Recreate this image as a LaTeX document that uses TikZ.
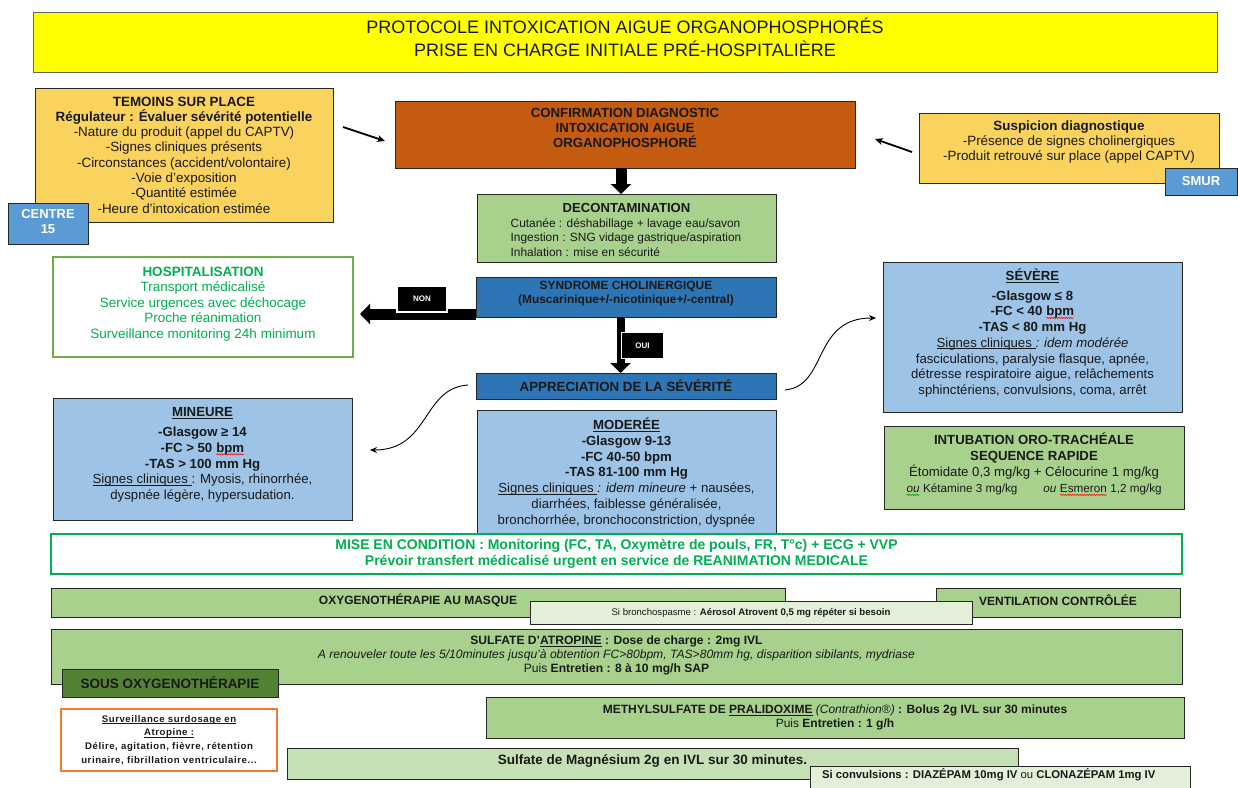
\documentclass[tikz,border=0pt]{standalone}
\usepackage{fontspec}
\setmainfont{Liberation Sans}
\usetikzlibrary{arrows.meta,shadows,decorations.pathmorphing,calc}

\definecolor{titleyellow}{HTML}{FFFF00}
\definecolor{paleorange}{HTML}{FAD35E}
\definecolor{rust}{HTML}{C55A11}
\definecolor{leaf}{HTML}{A9D18E}
\definecolor{leaflight}{HTML}{C5E0B4}
\definecolor{leafpale}{HTML}{E2F0D9}
\definecolor{leafdark}{HTML}{548235}
\definecolor{deepblue}{HTML}{2E75B6}
\definecolor{skyblue}{HTML}{9DC3E6}
\definecolor{midblue}{HTML}{5B9BD5}
\definecolor{vivid}{HTML}{00B050}
\definecolor{grassline}{HTML}{70AD47}
\definecolor{tangerine}{HTML}{ED7D31}

\newcommand\fs[2]{\fontsize{#1}{#2}\selectfont}
% underline close to the baseline
\newcommand\ul[1]{\setbox0\hbox{#1}\rlap{\rule[-1.8pt]{\wd0}{0.65pt}}\box0\relax}
% wavy spell-check style underline
\newcommand\wavy[2]{\tikz[baseline=(w.base)]{\node[inner sep=0pt,outer sep=0pt](w){#2};
  \draw[#1,line width=0.5pt,decorate,decoration={snake,amplitude=0.7pt,segment length=2.4pt}]
  ([yshift=-2pt]w.base west)--([yshift=-2pt]w.base east);}}

% box from corners (x1,y1)-(x2,y2), text node shifted by dy from the centre
\newcommand\bx[9]{%
  \node[#1,minimum width={(#5-#3)*1pt},minimum height={(#6-#4)*1pt}] (#2) at ({(#3+#5)/2},{(#4+#6)/2}) {};
  \node[txt,#8] (#2-t) at ($(#2.center)+(0,#7)$) {#9};}

\begin{document}
\begin{tikzpicture}[x=1pt,y=-1pt,
  box/.style={draw=black!85,line width=0.9pt,inner sep=0pt,outer sep=0pt},
  shade/.style={drop shadow={shadow xshift=1.3pt,shadow yshift=-1.3pt,fill=black!45,opacity=1}},
  txt/.style={align=center,inner sep=0pt,outer sep=0pt,text=black!90},
  fatarrow/.style={line width=#1,-{Triangle[width=20pt,length=10pt]}},
  thinarrow/.style={line width=1.8pt,-{Stealth[length=8pt,width=7pt]}},
  curvearrow/.style={line width=0.9pt,-{Stealth[length=7pt,width=6pt]}},
  tag/.style={fill=black,draw=white,line width=1.5pt,text=white,font=\fs{8}{9}\bfseries,inner sep=0pt,minimum width=50pt,minimum height=26pt},
]
\useasboundingbox (0,0) rectangle (1238,787);

% ---------- header ----------
\bx{box,draw=black!60,fill=titleyellow,shade}{title}{33}{12}{1217}{72}{-4.5}{font=\fs{18}{23}}
  {PROTOCOLE INTOXICATION AIGUE ORGANOPHOSPHORÉS\\PRISE EN CHARGE INITIALE PRÉ-HOSPITALIÈRE}

% ---------- alert sources ----------
\bx{box,fill=paleorange}{temoins}{35}{88}{333}{222}{0}{font=\fs{13.4}{15.3}}
  {\textbf{TEMOINS SUR PLACE}\\
   \textbf{Régulateur : Évaluer sévérité potentielle}\\
   -Nature du produit (appel du CAPTV)\\
   -Signes cliniques présents\\
   -Circonstances (accident/volontaire)\\
   -Voie d’exposition\\
   -Quantité estimée\\
   -Heure d’intoxication estimée}
\bx{box,fill=midblue}{centre}{8}{203}{88}{244}{-2}{font=\fs{13}{15}\bfseries,text=white}
  {CENTRE\\15}

\bx{box,fill=paleorange}{susp}{919}{113}{1219}{183}{-6}{font=\fs{13.4}{15.3}}
  {\textbf{Suspicion diagnostique}\\
   -Présence de signes cholinergiques\\
   -Produit retrouvé sur place (appel CAPTV)}
\bx{box,fill=midblue}{smur}{1165}{168}{1237}{195}{0}{font=\fs{13}{15}\bfseries,text=white}
  {SMUR}

\bx{box,fill=rust}{conf}{395}{101}{855}{168}{-6.5}{font=\fs{13.2}{15}\bfseries}
  {CONFIRMATION DIAGNOSTIC\\INTOXICATION AIGUE\\ORGANOPHOSPHORÉ}

\draw[thinarrow] ($(temoins.north east)+(10,39)$) -- ($(conf.west)+(-10,6.5)$);
\draw[thinarrow] ($(susp.west)+(-7,4)$) -- ($(conf.east)+(20,4.5)$);

% ---------- decontamination ----------
\node[box,fill=leaf,minimum width=299pt,minimum height=68pt] (decon) at (626.5,228) {};
\node[txt,font=\fs{13.1}{15}\bfseries] (decon-t) at (626.5,208) {DECONTAMINATION};
\node[txt,align=left,font=\fs{11.9}{14.5}] (decon-l) at (626,237.5)
  {Cutanée : déshabillage + lavage eau/savon\\
   Ingestion : SNG vidage gastrique/aspiration\\
   Inhalation : mise en sécurité};
\draw[fatarrow=11pt] ([xshift=-4pt]conf.south) -- ([xshift=-5.5pt]decon.north);

% ---------- cholinergic syndrome ----------
\bx{box,fill=deepblue}{synd}{476}{277}{776}{317}{-3}{font=\fs{11.9}{14}\bfseries}
  {SYNDROME CHOLINERGIQUE\\(Muscarinique+/-nicotinique+/-central)}
\bx{box,fill=deepblue}{appr}{476}{373}{776}{399}{0}{font=\fs{13.3}{15}\bfseries}
  {APPRECIATION DE LA SÉVÉRITÉ}

\bx{box,draw=grassline,line width=1.4pt,fill=white}{hosp}{53}{257}{353}{357}{-3}{font=\fs{13.5}{15.6},text=vivid}
  {\textbf{HOSPITALISATION}\\
   Transport médicalisé\\
   Service urgences avec déchocage\\
   Proche réanimation\\
   Surveillance monitoring 24h minimum}

\coordinate (nontip) at (360,314);
\draw[fatarrow=11pt] (synd.west |- nontip) -- (nontip);
\node[tag] (non) at (422,299) {NON};

\draw[fatarrow=8pt] ([xshift=-5.5pt]synd.south) -- ([xshift=-5.5pt]appr.north);
\node[tag,minimum width=42pt,minimum height=26pt] (oui) at (642.5,345.5) {OUI};

% ---------- severity ----------
\bx{box,fill=skyblue}{sev}{883}{262}{1182}{412}{-4}{font=\fs{13.2}{15.7}}
  {\ul{\textbf{SÉVÈRE}}\\[4pt]
   \textbf{-Glasgow ≤ 8}\\
   \textbf{-FC < 40 \wavy{red}{bpm}}\\
   \textbf{-TAS < 80 mm Hg}\\
   \ul{Signes cliniques }\textit{: idem modérée}\\
   fasciculations, paralysie flasque, apnée,\\
   détresse respiratoire aigue, relâchements\\
   sphinctériens, convulsions, coma, arrêt}

\bx{box,fill=skyblue}{min}{53}{398}{352}{520}{-4}{font=\fs{13.2}{15.7}}
  {\ul{\textbf{MINEURE}}\\[4pt]
   \textbf{-Glasgow ≥ 14}\\
   \textbf{-FC > 50 \wavy{red}{bpm}}\\
   \textbf{-TAS > 100 mm Hg}\\
   \ul{Signes cliniques }: Myosis, rhinorrhée,\\
   dyspnée légère, hypersudation.}

\bx{box,fill=skyblue}{mod}{477}{410}{776}{533}{1}{font=\fs{13.2}{15.8}}
  {\ul{\textbf{MODERÉE}}\\
   \textbf{-Glasgow 9-13}\\
   \textbf{-FC 40-50 bpm}\\
   \textbf{-TAS 81-100 mm Hg}\\
   \ul{Signes cliniques }\textit{: idem mineure} + nausées,\\
   diarrhées, faiblesse généralisée,\\
   bronchorrhée, bronchoconstriction, dyspnée}

\bx{box,fill=leaf}{intub}{884}{426}{1184}{509}{-3}{font=\fs{13.2}{16}}
  {\textbf{INTUBATION ORO-TRACHÉALE}\\
   \textbf{SEQUENCE RAPIDE}\\
   Étomidate 0,3 mg/kg + Célocurine 1 mg/kg\\
   {\fs{11.7}{13}\wavy{green!60!black}{\textit{ou}} Kétamine 3 mg/kg\hspace{26pt}\textit{ou} \wavy{red}{Esmeron} 1,2 mg/kg}}

\draw[curvearrow] ($(appr.east)+(9,4)$) .. controls (828,386) and (812,318) .. ($(sev.west)+(-7,-19)$);
\draw[curvearrow] ($(appr.west)+(-8,-1)$) .. controls (422,388) and (430,450) .. ($(min.east)+(18,-9)$);

% ---------- treatment ----------
\bx{box,draw=vivid,line width=1.3pt,fill=white}{mise}{51}{534}{1182}{574}{0}{font=\fs{14}{16}\bfseries,text=vivid}
  {MISE EN CONDITION : Monitoring (FC, TA, Oxymètre de pouls, FR, T°c) + ECG + VVP\\
   Prévoir transfert médicalisé urgent en service de REANIMATION MEDICALE}

\bx{box,fill=leaf,shade}{oxy}{51}{588}{785}{617}{-2}{font=\fs{12}{14}\bfseries}
  {OXYGENOTHÉRAPIE AU MASQUE}
\bx{box,fill=leaf,shade}{vent}{936}{588}{1180}{617}{-2}{font=\fs{12}{14}\bfseries}
  {VENTILATION CONTRÔLÉE}
\bx{box,fill=leafpale,shade}{bronch}{530}{601}{972}{624}{0}{font=\fs{9.6}{11}}
  {Si bronchospasme : \textbf{Aérosol Atrovent 0,5 mg répéter si besoin}}

\bx{box,fill=leaf,shade}{atro}{51}{629}{1182}{684}{-1}{font=\fs{12.1}{14}}
  {\textbf{SULFATE D'\ul{ATROPINE} : Dose de charge : 2mg IVL}\\
   \textit{A renouveler toute les 5/10minutes jusqu'à obtention FC>80bpm, TAS>80mm hg, disparition sibilants, mydriase}\\
   Puis \textbf{Entretien : 8 à 10 mg/h SAP}}
\bx{box,fill=leafdark,shade}{sous}{62}{669}{278}{697}{0}{font=\fs{13.5}{15}\bfseries}
  {SOUS OXYGENOTHÉRAPIE}

\bx{box,draw=tangerine,line width=1.4pt,fill=white}{surv}{61}{709}{277}{771}{0}{font=\fs{9.6}{13.8}\bfseries\addfontfeature{LetterSpace=6}}
  {\ul{Surveillance surdosage en}\\
   \ul{Atropine :}\\
   Délire, agitation, fièvre, rétention\\
   urinaire, fibrillation ventriculaire...}

\bx{box,fill=leaf,shade}{methyl}{486}{697}{1184}{738}{0}{font=\fs{12}{14}}
  {\textbf{METHYLSULFATE DE \ul{PRALIDOXIME}} \textit{(Contrathion®)} \textbf{: Bolus 2g IVL sur 30 minutes}\\
   Puis \textbf{Entretien : 1 g/h}}

\bx{box,fill=leaflight,shade}{magn}{287}{748}{1018}{779}{-3}{font=\fs{13.5}{15}\bfseries}
  {Sulfate de Magnésium 2g en IVL sur 30 minutes.}
\node[box,fill=leafpale,shade,minimum width=380pt,minimum height=28pt] (conv) at (1000,780) {};
\node[txt,anchor=west,font=\fs{11.3}{12}] (conv-t) at (822,775)
  {\textbf{Si convulsions : DIAZÉPAM 10mg IV} ou \textbf{CLONAZÉPAM 1mg IV}};
\end{tikzpicture}
\end{document}
